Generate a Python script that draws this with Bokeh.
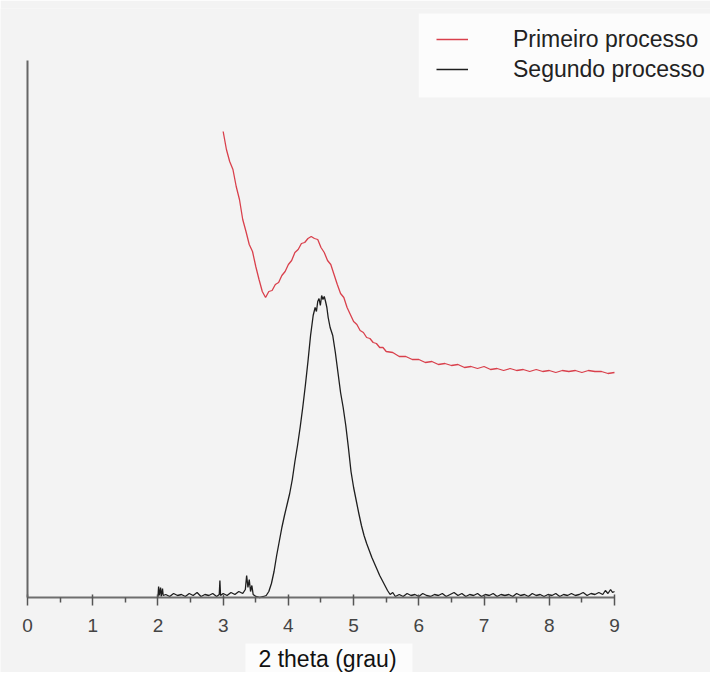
from bokeh.plotting import figure
from bokeh.models import Range1d, FixedTicker, Legend, LegendItem, Label, BoxAnnotation
from bokeh.embed import file_html
from bokeh.resources import INLINE

# ---- data (intensity in arbitrary units) ----
x_ticks = [0, 1, 2, 3, 4, 5, 6, 7, 8, 9]
x_minor = [0.5, 1.5, 2.5, 3.5, 4.5, 5.5, 6.5, 7.5, 8.5]

red_x = [3.00, 3.05, 3.10, 3.15, 3.20, 3.25, 3.30, 3.35, 3.40, 3.45,
         3.50, 3.55, 3.60, 3.65, 3.70, 3.75, 3.80, 3.85, 3.90, 3.95,
         4.00, 4.05, 4.10, 4.15, 4.20, 4.25, 4.30, 4.35, 4.40, 4.45,
         4.50, 4.55, 4.60, 4.65, 4.70, 4.75, 4.80, 4.85, 4.90, 4.95,
         5.00, 5.05, 5.10, 5.15, 5.20, 5.25, 5.30, 5.35, 5.40, 5.45,
         5.50, 5.60, 5.70, 5.80, 5.90, 6.00, 6.10, 6.20, 6.30, 6.40,
         6.50, 6.60, 6.70, 6.80, 6.90, 7.00, 7.10, 7.20, 7.30, 7.40,
         7.50, 7.60, 7.70, 7.80, 7.90, 8.00, 8.10, 8.20, 8.30, 8.40,
         8.50, 8.60, 8.70, 8.80, 8.90, 9.00]
red_y = [466, 448, 436, 428, 411, 398, 378, 366, 353, 346,
         331, 318, 306, 300, 306, 307, 313, 315, 322, 326,
         333, 337, 345, 348, 354, 355, 359, 361, 359, 358,
         350, 345, 337, 333, 323, 313, 304, 300, 290, 283,
         276, 273, 267, 265, 260, 259, 255, 254, 250, 250,
         246, 245, 241, 241, 238, 238, 235, 236, 233, 234,
         232, 233, 230, 231, 229, 231, 228, 229, 227, 229,
         227, 228, 226, 228, 226, 227, 225, 227, 226, 227,
         225, 227, 226, 226, 224, 225]

black_x = [2.00, 2.01, 2.02, 2.04, 2.05, 2.07, 2.08, 2.12, 2.18, 2.24,
           2.30, 2.36, 2.42, 2.48, 2.54, 2.60, 2.66, 2.72, 2.78, 2.84,
           2.90, 2.94, 2.95, 2.96, 3.00, 3.06, 3.12, 3.18, 3.24, 3.30,
           3.34, 3.36, 3.38, 3.40, 3.42, 3.44, 3.46, 3.50, 3.56, 3.62,
           3.66, 3.70, 3.74, 3.78, 3.82, 3.86, 3.90, 3.94, 3.98, 4.02,
           4.06, 4.10, 4.14, 4.18, 4.22, 4.26, 4.30, 4.34, 4.38, 4.41,
           4.43, 4.45, 4.47, 4.49, 4.51, 4.53, 4.55, 4.57, 4.59, 4.61,
           4.64, 4.68, 4.72, 4.76, 4.80, 4.84, 4.88, 4.92, 4.96, 5.00,
           5.04, 5.08, 5.12, 5.16, 5.20, 5.24, 5.28, 5.32, 5.36, 5.40,
           5.44, 5.48, 5.52, 5.56, 5.60, 5.64, 5.70, 5.76, 5.82, 5.88,
           5.94, 6.00, 6.06, 6.12, 6.18, 6.24, 6.30, 6.36, 6.42, 6.48,
           6.54, 6.60, 6.66, 6.72, 6.78, 6.84, 6.90, 6.96, 7.02, 7.08,
           7.14, 7.20, 7.26, 7.32, 7.38, 7.44, 7.50, 7.56, 7.62, 7.68,
           7.74, 7.80, 7.86, 7.92, 7.98, 8.04, 8.10, 8.16, 8.22, 8.28,
           8.34, 8.40, 8.46, 8.52, 8.58, 8.64, 8.70, 8.76, 8.82, 8.86,
           8.90, 8.94, 8.97, 9.00]
black_y = [0, 11, 2, 10, 1, 9, 2, 3, 1, 4,
           2, 3, 1, 4, 2, 5, 1, 3, 2, 4,
           1, 3, 17, 2, 4, 2, 5, 3, 6, 4,
           8, 22, 10, 18, 6, 12, 3, 1, 0, 1,
           2, 6, 14, 26, 42, 56, 70, 82, 93, 104,
           118, 136, 152, 170, 190, 212, 236, 262, 282, 290,
           286, 296, 299, 292, 302, 298, 301, 296, 290, 280,
           270, 262, 245, 225, 205, 190, 172, 150, 126, 110,
           97, 84, 72, 62, 54, 47, 40, 34, 28, 22,
           17, 12, 7, 3, 5, 1, 3, 1, 4, 2,
           3, 1, 4, 2, 1, 3, 2, 4, 1, 3,
           5, 2, 4, 1, 3, 2, 4, 1, 3, 2,
           4, 1, 3, 2, 3, 1, 4, 2, 3, 1,
           4, 2, 3, 1, 3, 2, 4, 1, 3, 2,
           4, 2, 3, 5, 2, 4, 3, 5, 3, 7,
           4, 8, 5, 6]

series_names = ["Primeiro processo", "Segundo processo"]
series_colors = ["#d9404c", "#1e1e1e"]
x_label = "2 theta (grau)"
y_axis_top = 537

BG = "#f3f3f3"
BOX = "#fcfcfc"

p = figure(width=710, height=672, output_backend="svg", toolbar_location=None,
           x_range=Range1d(-0.414, 10.472), y_range=Range1d(-75, 589),
           min_border_left=0, min_border_right=0, min_border_top=8,
           min_border_bottom=0)
p.background_fill_color = BG
p.border_fill_color = BG
p.outline_line_color = None
p.xgrid.visible = False
p.ygrid.visible = False

# x axis, drawn at y = 0 inside the frame
xa = p.xaxis[0]
xa.fixed_location = 0
xa.ticker = FixedTicker(ticks=x_ticks, minor_ticks=x_minor)
xa.bounds = (0, 9)
xa.axis_line_color = "#6e6e6e"
xa.axis_line_width = 2
xa.major_tick_line_color = "#555555"
xa.major_tick_line_width = 1.5
xa.major_tick_in = 3
xa.major_tick_out = 8
xa.minor_tick_line_color = "#555555"
xa.minor_tick_line_width = 1.5
xa.minor_tick_in = 0
xa.minor_tick_out = 5
xa.major_label_text_font = "Liberation Sans"
xa.major_label_text_font_size = "19px"
xa.major_label_text_color = "#444444"
xa.major_label_standoff = 13

# y axis (line only), drawn at x = 0
ya = p.yaxis[0]
ya.fixed_location = 0
ya.ticker = FixedTicker(ticks=[])
ya.bounds = (0, y_axis_top)
ya.axis_line_color = "#666666"
ya.axis_line_width = 2
ya.major_tick_line_color = None
ya.minor_tick_line_color = None
ya.major_label_text_color = None

# white legend panel and white x-label panel
p.add_layout(BoxAnnotation(left=6.0, bottom=500, top=584, fill_color=BOX,
                           fill_alpha=1, line_color=None, level="underlay"))
p.add_layout(BoxAnnotation(left=3.343, right=5.903, top=-46, fill_color=BOX,
                           fill_alpha=1, line_color=None, level="underlay"))

r_red = p.line(red_x, red_y, line_color=series_colors[0], line_width=1.3)
r_blk = p.line(black_x, black_y, line_color=series_colors[1], line_width=1.3)

legend = Legend(items=[LegendItem(label=series_names[0], renderers=[r_red]),
                       LegendItem(label=series_names[1], renderers=[r_blk])],
                location=(436, 513 + 75))
legend.background_fill_alpha = 0
legend.border_line_color = None
legend.label_text_font = "Liberation Sans"
legend.label_text_font_size = "23px"
legend.label_text_color = "#222222"
legend.glyph_width = 32
legend.glyph_height = 30
legend.label_height = 30
legend.label_standoff = 45
legend.spacing = 0
legend.padding = 0
legend.margin = 0
p.add_layout(legend)

p.add_layout(Label(x=4.6, y=-61, text=x_label, text_align="center",
                   text_baseline="middle", text_font="Liberation Sans",
                   text_font_size="23px", text_color="#111111"))

open("out.html", "w").write(file_html(p, INLINE))
